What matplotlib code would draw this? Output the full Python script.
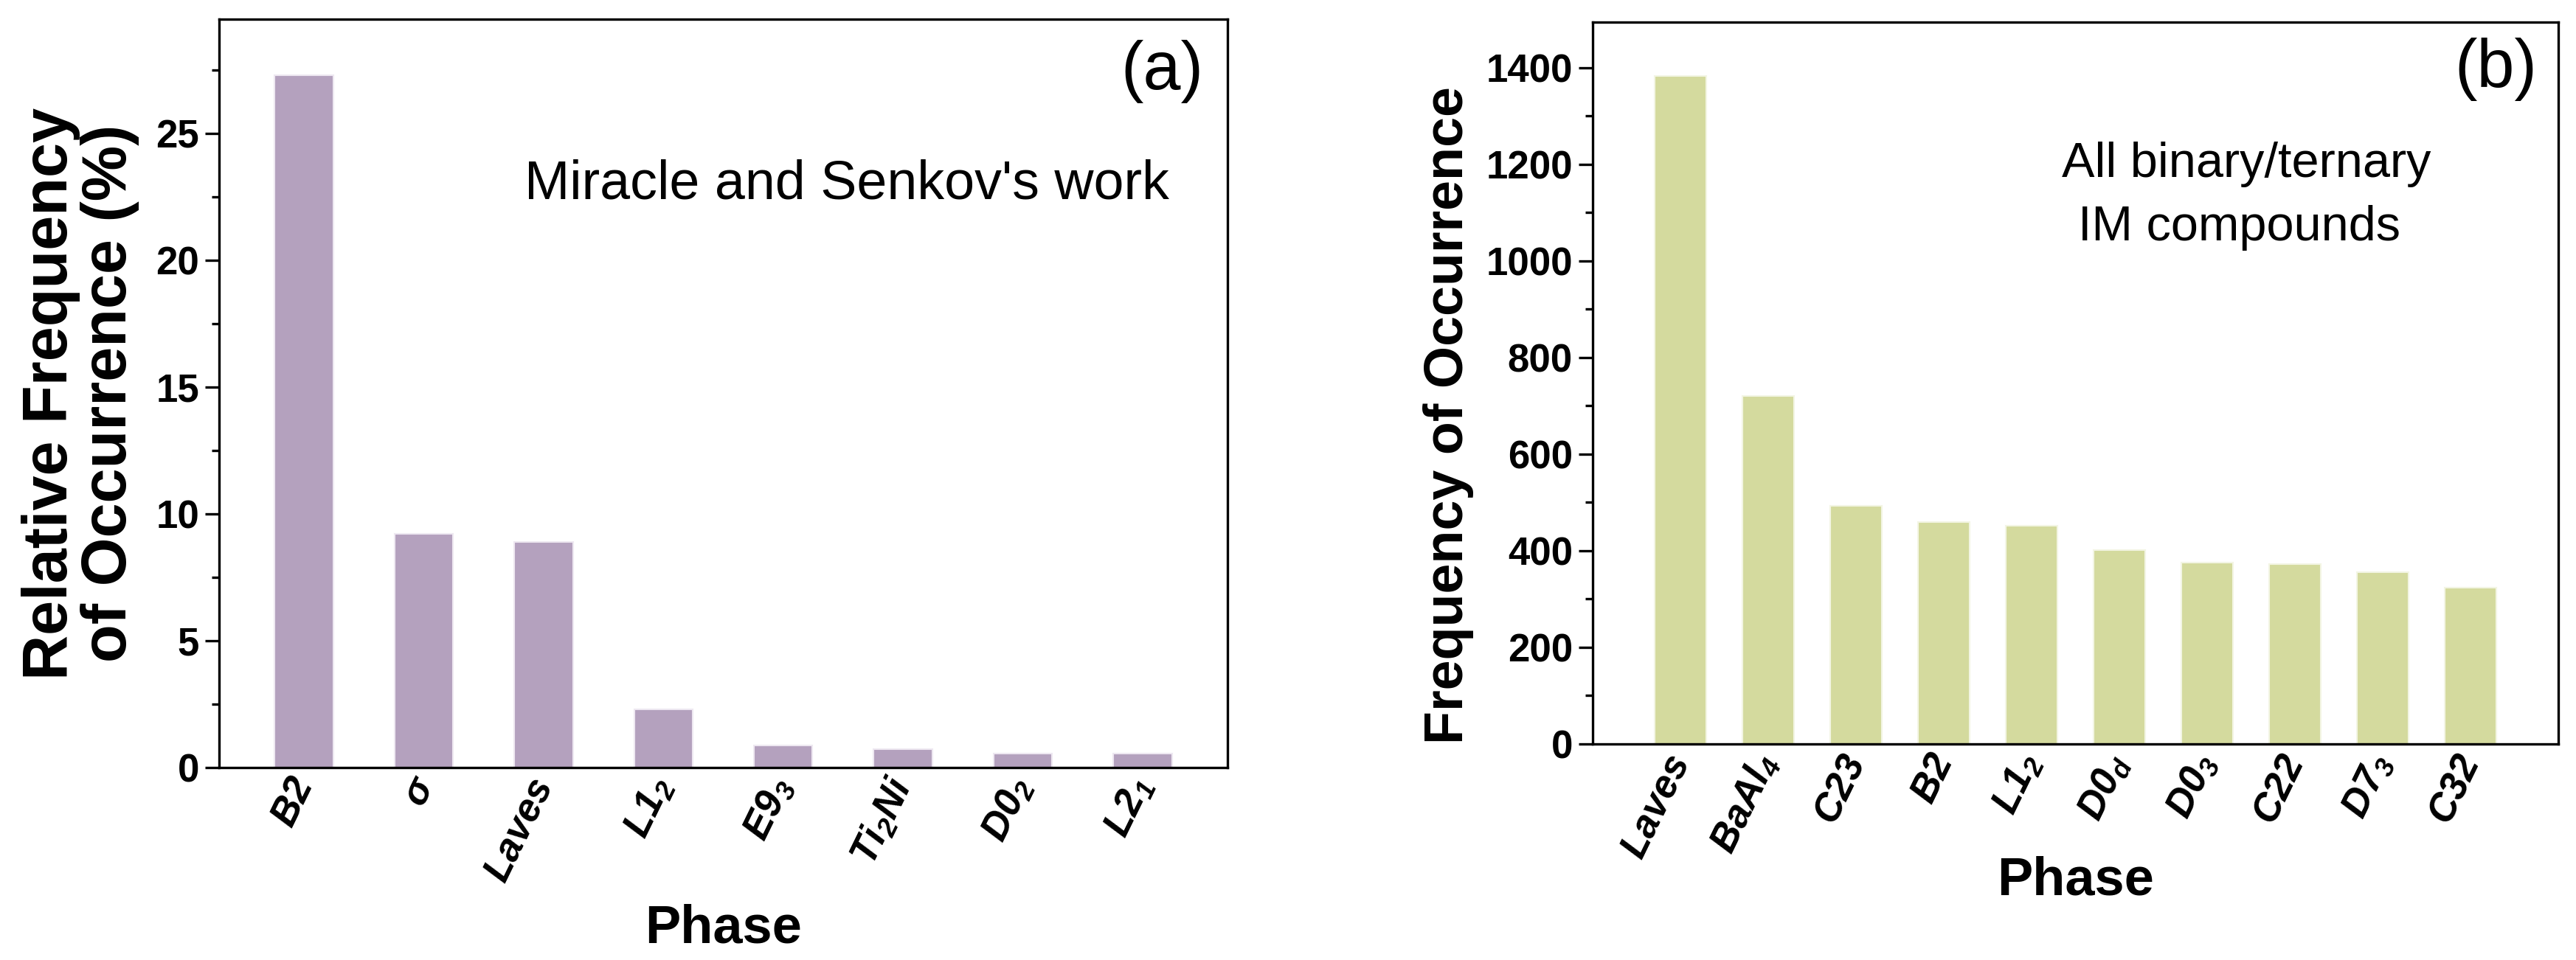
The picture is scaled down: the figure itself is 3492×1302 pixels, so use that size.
import matplotlib
matplotlib.use("Agg")
import matplotlib.pyplot as plt
from matplotlib.ticker import MultipleLocator

plt.rcParams['font.family'] = ['Liberation Sans', 'DejaVu Sans']
# tick labels with subscripts: bold italic through mathtext
plt.rcParams['mathtext.fontset'] = 'custom'
plt.rcParams['mathtext.rm'] = 'Liberation Sans:bold:italic'
plt.rcParams['mathtext.it'] = 'Liberation Sans:bold:italic'
plt.rcParams['mathtext.bf'] = 'Liberation Sans:bold:italic'

# panel (a): Miracle and Senkov's work
phases_a = ['B2', 'σ', 'Laves', r'$\mathrm{L1_2}$', r'$\mathrm{E9_3}$',
            r'$\mathrm{Ti_2Ni}$', r'$\mathrm{D0_2}$', r'$\mathrm{L2_1}$']
rel_freq_a = [27.3, 9.2, 8.9, 2.3, 0.87, 0.72, 0.56, 0.56]

# panel (b): all binary/ternary IM compounds
phases_b = ['Laves', r'$\mathrm{BaAl_4}$', 'C23', 'B2', r'$\mathrm{L1_2}$',
            r'$\mathrm{D0_d}$', r'$\mathrm{D0_3}$', 'C22',
            r'$\mathrm{D7_3}$', 'C32']
freq_b = [1382, 720, 493, 459, 451, 402, 376, 372, 355, 324]

W, H = 3492, 1302
fig = plt.figure(figsize=(W / 100, H / 100), dpi=100)


def style_axes(ax, labels, major, minor, label_y):
    for sp in ax.spines.values():
        sp.set_linewidth(2.4)
    ax.yaxis.set_major_locator(MultipleLocator(major))
    ax.yaxis.set_minor_locator(MultipleLocator(minor))
    ax.tick_params(axis='y', which='major', direction='out', length=13.5, width=2.4,
                   labelsize=38, pad=6, right=False)
    ax.tick_params(axis='y', which='minor', direction='out', length=7, width=2.4, right=False)
    for t in ax.get_yticklabels():
        t.set_fontweight('bold')
    ax.tick_params(axis='x', which='both', length=0, pad=12)
    ax.set_xticklabels(labels, rotation=64, ha='right', va='center',
                       rotation_mode='anchor', fontsize=38,
                       fontweight='bold', fontstyle='italic')
    ax.set_xlabel('Phase', fontsize=52, fontweight='bold')
    ax.xaxis.set_label_coords(0.5, label_y)
    ax.xaxis.label.set_va('baseline')


# ---- panel (a)
ax_a = fig.add_axes([297 / W, 1 - 1041 / H, (1664 - 297) / W, (1041 - 26) / H])
xa = list(range(1, len(phases_a) + 1))
ax_a.bar(xa, rel_freq_a, width=0.49, color='#B4A1BE', edgecolor='#EEE8F1', linewidth=1.5)
ax_a.set_xlim(0.29, 8.71)
ax_a.set_ylim(0, 29.5)
ax_a.set_xticks(xa)
style_axes(ax_a, phases_a, 5, 2.5, -0.2335)
ax_a.set_ylabel('Relative Frequency\nof Occurrence (%)', fontsize=61,
                fontweight='bold', linespacing=1.0, labelpad=16)
ax_a.text(0.935, 0.93, '(a)', transform=ax_a.transAxes, fontsize=66,
          ha='center', va='center')
ax_a.text(0.303, 0.76, "Miracle and Senkov's work", transform=ax_a.transAxes,
          fontsize=53, ha='left', va='baseline')

# ---- panel (b)
ax_b = fig.add_axes([2159 / W, 1 - 1009 / H, (3468 - 2159) / W, (1009 - 30) / H])
xb = list(range(1, len(phases_b) + 1))
ax_b.bar(xb, freq_b, width=0.58, color='#D4DA9E', edgecolor='#F3F5E4', linewidth=1.5)
ax_b.set_xlim(0, 11)
ax_b.set_ylim(0, 1494)
ax_b.set_xticks(xb)
style_axes(ax_b, phases_b, 200, 100, -0.2084)
ax_b.set_ylabel('Frequency of Occurrence', fontsize=53, fontweight='bold', labelpad=12)
ax_b.yaxis.label.set_y(0.455)
ax_b.text(0.935, 0.935, '(b)', transform=ax_b.transAxes, fontsize=66,
          ha='center', va='center')
ax_b.text(0.486, 0.785, 'All binary/ternary', transform=ax_b.transAxes,
          fontsize=48, ha='left', va='baseline')
ax_b.text(0.503, 0.698, 'IM compounds', transform=ax_b.transAxes,
          fontsize=48, ha='left', va='baseline')

fig.savefig('out.png', dpi=100, facecolor='white')
